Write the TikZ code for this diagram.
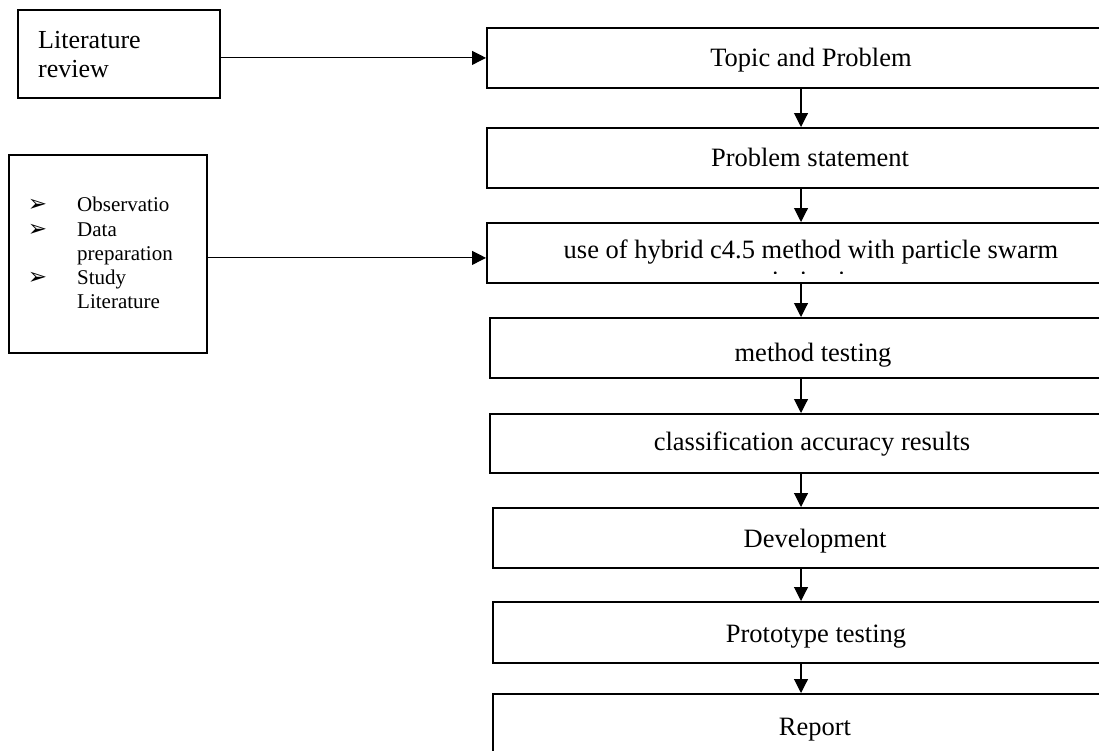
\documentclass[tikz,border=0pt]{standalone}
\usepackage{fontspec}
\setmainfont{Liberation Serif}
\newfontfamily\symfont{DejaVu Sans}
\usetikzlibrary{arrows.meta}

\tikzset{
  stage/.style={draw=black, line width=1.8pt, rectangle, inner sep=0pt, anchor=north west},
  sidebox/.style={draw=black, line width=1.8pt, rectangle, inner sep=0pt, anchor=north west},
  conn/.style={line width=1.1pt, -{Triangle[length=14pt,width=14pt]}},
  steptext/.style={font=\fontsize{26.5}{30}\selectfont, anchor=base, inner sep=0pt},
  littext/.style={font=\fontsize{26}{29}\selectfont, anchor=base west, inner sep=0pt},
  listtext/.style={font=\fontsize{21}{24.5}\selectfont, anchor=base west, inner sep=0pt},
  bulletmark/.style={font=\symfont\fontsize{23}{23}\selectfont, anchor=base, inner sep=0pt},
}

\begin{document}
\begin{tikzpicture}[x=1pt,y=-1pt]
\useasboundingbox (0,0) rectangle (1099,750);
\clip (0,0) rectangle (1099,750);

% vertical spine of the main flow
\coordinate (spine) at (801,0);

% main flow boxes (running off the right edge)
\node[stage, minimum width=634, minimum height=60] (b1) at (486,27) {};
\node[stage, minimum width=634, minimum height=60] (b2) at (486,127) {};
\node[stage, minimum width=634, minimum height=60] (b3) at (486,222) {};
\node[stage, minimum width=632, minimum height=60] (b4) at (489,317) {};
\node[stage, minimum width=632, minimum height=59] (b5) at (489,413) {};
\node[stage, minimum width=629, minimum height=60] (b6) at (492,507) {};
\node[stage, minimum width=629, minimum height=61] (b7) at (492,601) {};
\node[stage, minimum width=629, minimum height=90] (b8) at (492,693) {};

% box labels
\node[steptext] (t1) at (811,66.6) {Topic and Problem};
\node[steptext] (t2) at (810,166.6) {Problem statement};
\node[steptext] (t3) at (811,258.7) {use of hybrid c4.5 method with particle swarm};
\begin{scope}
  % second line of the label is cut off by the box
  \clip (486,222) rectangle (1120,273.5);
  \node[steptext] (t3b) at (805,289) {optimization};
\end{scope}
\node[steptext] (t4) at (813,361) {method testing};
\node[steptext] (t5) at (812,450) {classification accuracy results};
\node[steptext] (t6) at (815,547) {Development};
\node[steptext] (t7) at (816,642) {Prototype testing};
\node[steptext] (t8) at (815,735) {Report};

% arrows down the flow
\draw[conn] (b1.south -| spine) -- (b2.north -| spine);
\draw[conn] (b2.south -| spine) -- (b3.north -| spine);
\draw[conn] (b3.south -| spine) -- (b4.north -| spine);
\draw[conn] (b4.south -| spine) -- (b5.north -| spine);
\draw[conn] (b5.south -| spine) -- (b6.north -| spine);
\draw[conn] (b6.south -| spine) -- (b7.north -| spine);
\draw[conn] (b7.south -| spine) -- (b8.north -| spine);

% literature review input
\node[sidebox, minimum width=202, minimum height=88] (lit) at (17,9) {};
\node[littext] (lit1) at (38,48) {Literature};
\node[littext] (lit2) at (38,77) {review};
\draw[conn] (lit.east |- b1.west) -- (b1.west);

% activities list input
\node[sidebox, minimum width=198, minimum height=198] (acts) at (8,154) {};
\node[bulletmark] (m1) at (37.5,211) {➢};
\node[bulletmark] (m2) at (37.5,236) {➢};
\node[bulletmark] (m3) at (37.5,284) {➢};
\node[listtext] (a1) at (77,211) {Observatio};
\node[listtext] (a2) at (77,236) {Data};
\node[listtext] (a3) at (77,260) {preparation};
\node[listtext] (a4) at (77,284) {Study};
\node[listtext] (a5) at (77,308.5) {Literature};
\coordinate (actsout) at ([yshift=-4pt]acts.east);
\draw[conn] (actsout) -- (actsout -| b3.west);

\end{tikzpicture}
\end{document}
